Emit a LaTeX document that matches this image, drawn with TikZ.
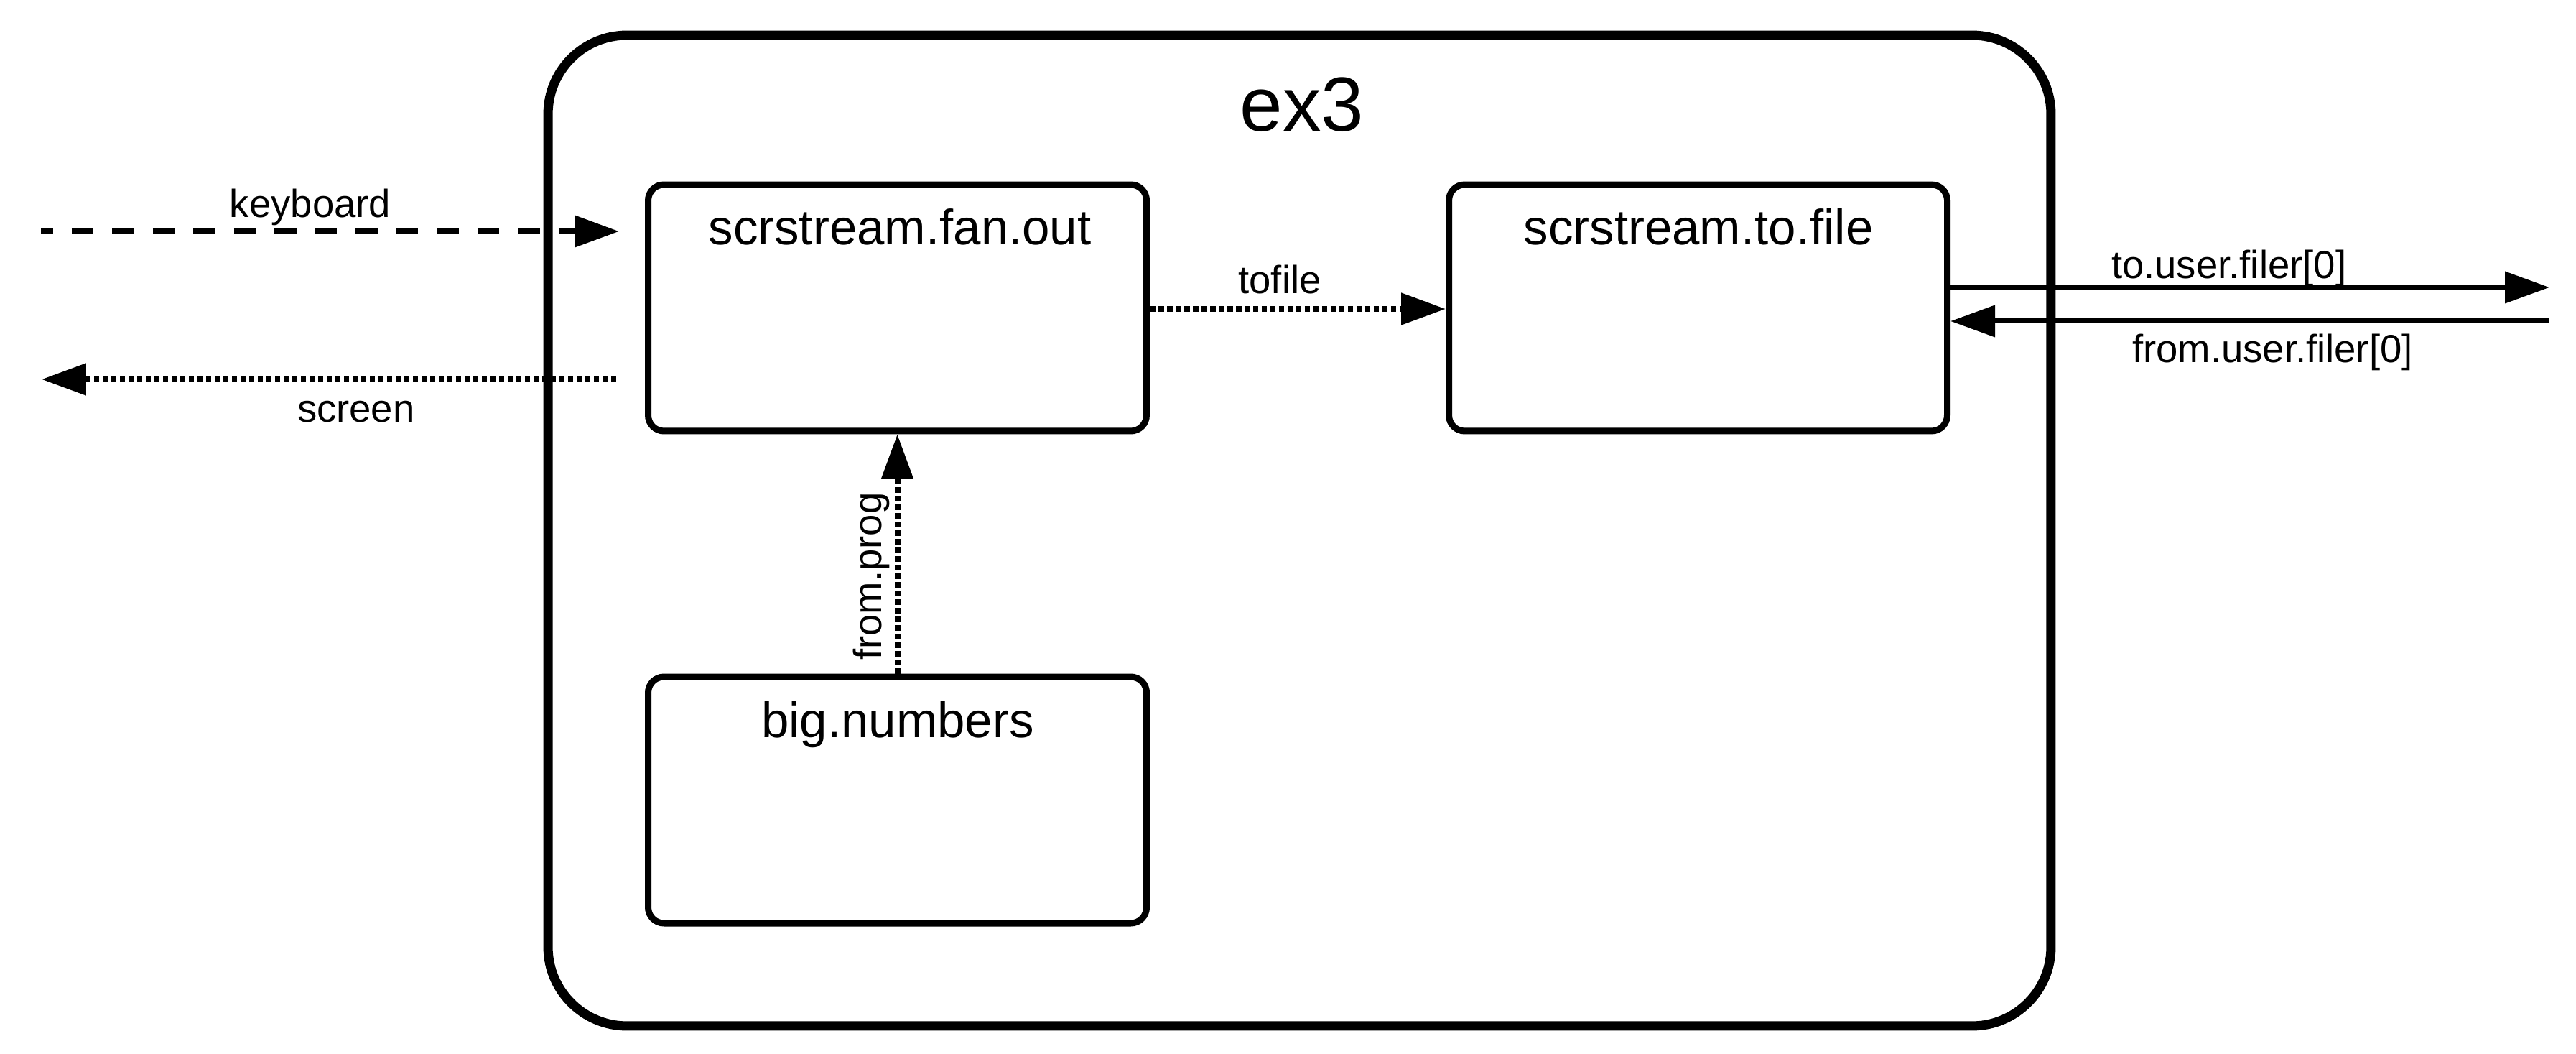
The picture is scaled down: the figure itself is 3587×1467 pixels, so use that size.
\documentclass[tikz,border=0pt]{standalone}
\usepackage{fontspec}
\setmainfont{Liberation Sans}
\usetikzlibrary{arrows.meta}
\begin{document}
\begin{tikzpicture}[x=0.1pt,y=-0.1pt,
  outerbox/.style={draw, line width=1.3pt, rounded corners=11pt, minimum width=209.3pt, minimum height=137.9pt, inner sep=0pt, outer sep=0pt},
  procbox/.style={draw, line width=0.9pt, rounded corners=2.2pt, minimum width=69.4pt, minimum height=34.3pt, inner sep=0pt},
  titletext/.style={font=\fontsize{6.9pt}{8pt}\selectfont, anchor=base, inner sep=0pt},
  lbl/.style={font=\fontsize{5.45pt}{6.5pt}\selectfont, inner sep=0pt},
  conn/.style={line width=0.7pt, -{Triangle[length=6.2pt,width=4.3pt]}},
  dotline/.style={line width=0.8pt, dash pattern=on 0.75pt off 0.45pt},
  dashline/.style={line width=0.8pt, dash pattern=on 3.05pt off 2.6pt, dash phase=1.35pt},
]
\useasboundingbox (0,0) rectangle (3587,1467);
\node[outerbox] (ex3box) at (1809.5,738.5) {};
\node[font=\fontsize{10.7pt}{12pt}\selectfont, inner sep=0pt, anchor=base] (ex3) at (1813,183) {ex3};
\node[procbox] (fan) at (1249.5,428.5) {};
\node[procbox] (tofilebox) at (2364.5,428.5) {};
\node[procbox] (big) at (1249.5,1113.5) {};
\node[titletext] (fant) at (1253,341) {scrstream.fan.out};
\node[titletext] (tofilet) at (2365,341) {scrstream.to.file};
\node[titletext] (bigt) at (1250,1026) {big.numbers};
% keyboard
\coordinate (kbIn) at (57,322);
\draw[conn,dashline,shorten >=3.6pt] (kbIn) -- (kbIn -| fan.west);
\node[lbl, anchor=base] (kbl) at (432,303) {keyboard};
% screen
\coordinate (scrOut) at (58,528);
\draw[conn,dotline,shorten <=4pt] (scrOut -| fan.west) -- (scrOut);
\node[lbl, anchor=base west] (scrl) at (412,587) {screen};
% tofile
\coordinate (tfy) at (0,430);
\draw[conn,dotline] (fan.east |- tfy) -- (tofilebox.west |- tfy);
\node[lbl, anchor=base] (tfl) at (1782,408) {tofile};
% from.prog
\draw[conn,dotline] (big.north) -- (fan.south);
\node[lbl, rotate=90] (fpl) at (1213,802) {from.prog};
% to.user.filer[0]
\coordinate (tuOut) at (3550,400);
\draw[conn] (tuOut -| tofilebox.east) -- (tuOut);
\node[lbl, anchor=base west] (tul) at (2938,388) {to.user.filer[0]};
% from.user.filer[0]
\coordinate (fuIn) at (3550,447);
\draw[conn] (fuIn) -- (fuIn -| tofilebox.east);
\node[lbl, anchor=base west] (ful) at (2967,505) {from.user.filer[0]};
\end{tikzpicture}
\end{document}
